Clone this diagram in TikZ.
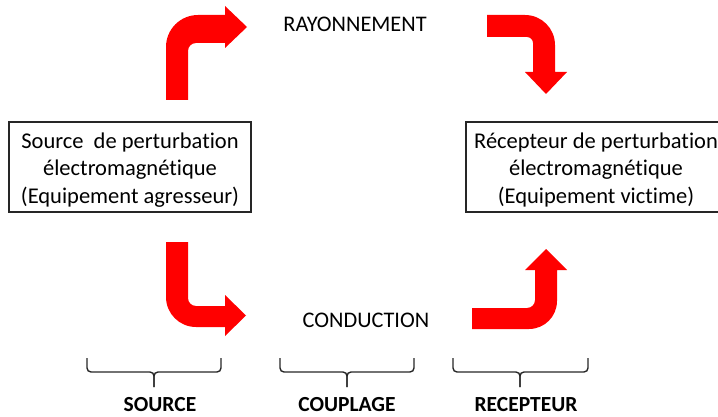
\documentclass[tikz,border=0pt]{standalone}
\usepackage{fontspec}
\setmainfont{Carlito}[Ligatures={NoCommon}]
\begin{document}
\begin{tikzpicture}[x=1pt,y=-1pt,
  arrowshape/.style={fill=red, draw=none},
  box/.style={draw=black!85, line width=1.3pt, minimum width=242pt, minimum height=90pt, inner sep=0pt},
  boxtext/.style={align=center, font=\fontsize{22.5}{27.5}\selectfont, inner sep=0pt},
  lbl/.style={font=\fontsize{22.3}{26}\selectfont, anchor=base, inner sep=0pt},
  blbl/.style={font=\bfseries\fontsize{21.5}{26}\selectfont, anchor=base, inner sep=0pt},
  bracestyle/.style={draw=black!85, line width=1.4pt, rounded corners=4pt}]
\useasboundingbox (0,0) rectangle (718,417);
\clip (0,0) rectangle (718,417);

% boxes
\node[box] (srcbox) at (130,167) {};
\node[box, minimum width=274pt] (recbox) at (603,167) {};
\node[boxtext] (srctext) at (130,170) {Source\ \ de perturbation\\électromagnétique\\(Equipement agresseur)};
\node[boxtext] (rectext) at (596,170) {Récepteur de perturbation\\électromagnétique\\(Equipement victime)};

% labels
\node[lbl] (ray) at (355,32) {RAYONNEMENT};
\node[lbl] (cond) at (366,327) {CONDUCTION};
\node[blbl] (lsrc) at (160,411) {SOURCE};
\node[blbl] (lcoup) at (347,411) {COUPLAGE};
\node[blbl] (lrec) at (526,411) {RECEPTEUR};

% arrow 1 (up then right)
\fill[arrowshape] (166,100) -- (166,47) .. controls (166,29.3) and (180.3,15) .. (198,15)
  -- (225,15) -- (225,6) -- (247,27) -- (225,48) -- (225,43) -- (196,43)
  .. controls (191.6,43) and (188,46.6) .. (188,51) -- (188,100) -- cycle;

% arrow 2 (right then down)
\fill[arrowshape] (487,15) -- (525,15) .. controls (541.6,15) and (555,28.4) .. (555,45)
  -- (555,72) -- (567,72) -- (546,94) -- (525,72) -- (533,72) -- (533,43)
  .. controls (533,39.7) and (530.3,37) .. (527,37) -- (487,37) -- cycle;

% arrow 3 (down then right)
\fill[arrowshape] (166,242) -- (188,242) -- (188,298) .. controls (188,302.4) and (191.6,306) .. (196,306)
  -- (225,306) -- (225,295) -- (246,315.5) -- (225,336) -- (225,327) -- (196,327)
  .. controls (179.4,327) and (166,313.6) .. (166,297) -- cycle;

% arrow 4 (right then up)
\fill[arrowshape] (472,308) -- (527,308) .. controls (531.4,308) and (535,304.4) .. (535,300)
  -- (535,270) -- (525,270) -- (546,249) -- (567,270) -- (557,270) -- (557,301)
  .. controls (557,316.5) and (544.5,329) .. (529,329) -- (472,329) -- cycle;

% braces
\coordinate (b1tip) at (154,387);
\draw[bracestyle] (87,358) -- (87,372) -- (154,372) -- (b1tip);
\draw[bracestyle] (221,358) -- (221,372) -- (154,372) -- (b1tip);
\coordinate (b2tip) at (347,387);
\draw[bracestyle] (280,358) -- (280,372) -- (347,372) -- (b2tip);
\draw[bracestyle] (414,358) -- (414,372) -- (347,372) -- (b2tip);
\coordinate (b3tip) at (520,387);
\draw[bracestyle] (453,358) -- (453,372) -- (520,372) -- (b3tip);
\draw[bracestyle] (588,358) -- (588,372) -- (520,372) -- (b3tip);
\end{tikzpicture}
\end{document}
